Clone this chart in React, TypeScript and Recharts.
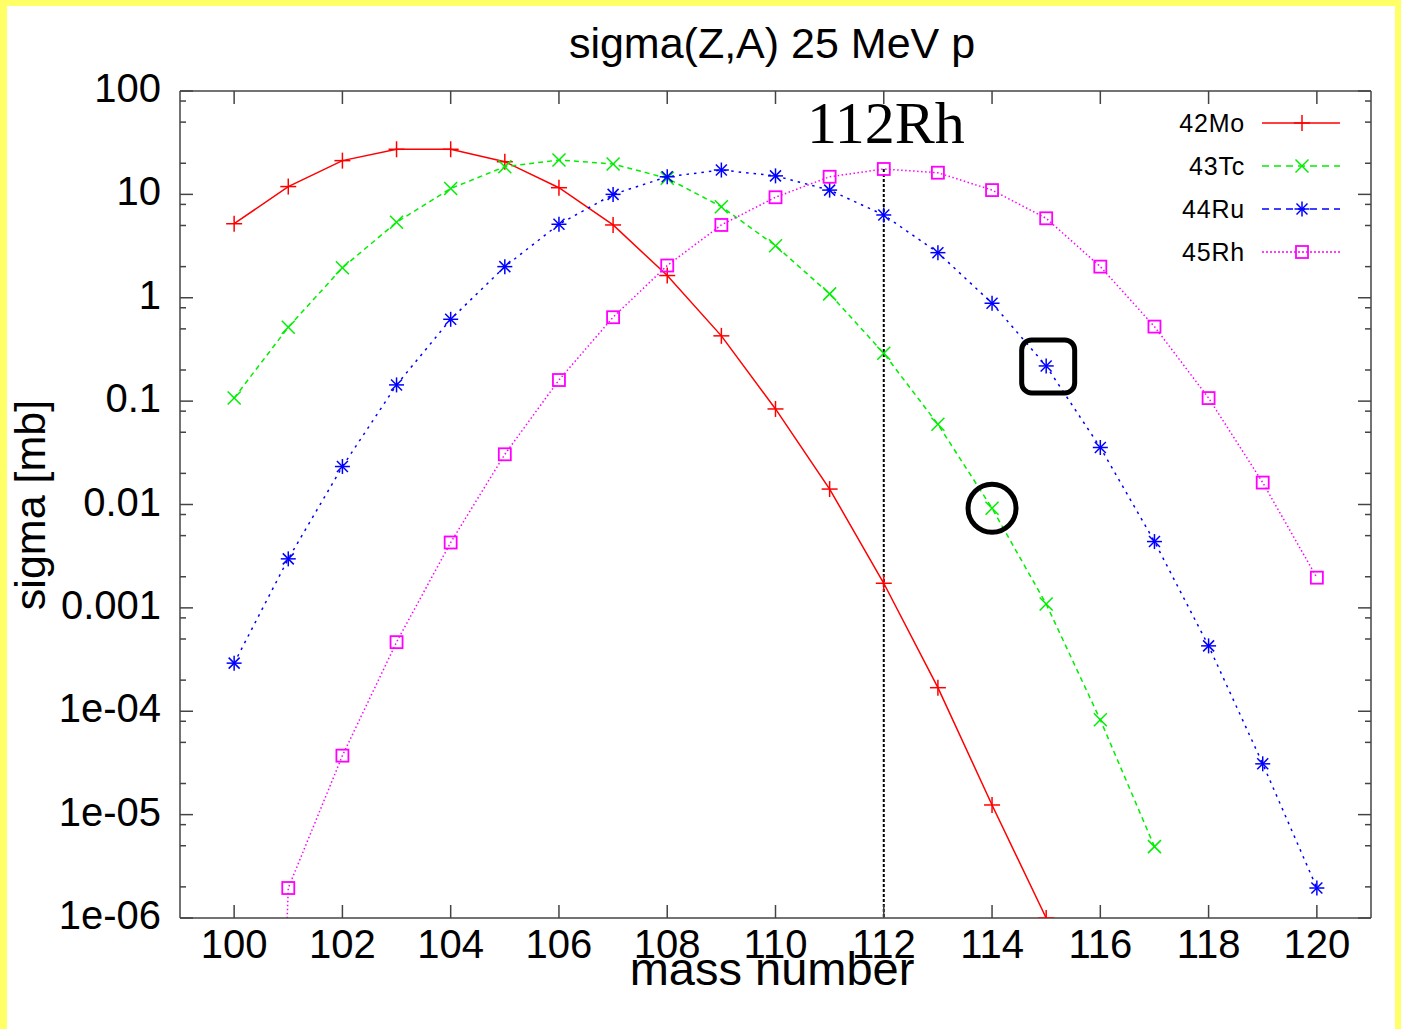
import React from 'react';
import { LineChart, Line, XAxis, YAxis, ReferenceLine, ReferenceDot, Legend, Customized } from 'recharts';

const massNumbers = [100, 101, 102, 103, 104, 105, 106, 107, 108, 109, 110, 111, 112, 113, 114, 115, 116, 117, 118, 119, 120];
const mo42 = [5.2, 11.9, 21.2, 27.3, 27.3, 20.7, 11.6, 5.06, 1.64, 0.428, 0.084, 0.0141, 0.00173, 1.69e-4, 1.24e-5, 1.0e-6, null, null, null, null, null];
const tc43 = [0.107, 0.519, 1.95, 5.37, 11.4, 18.5, 21.5, 19.7, 14.3, 7.6, 3.19, 1.09, 0.29, 0.0597, 0.0092, 0.00109, 8.26e-5, 4.9e-6, null, null, null];
const ru44 = [2.92e-4, 2.98e-3, 0.0233, 0.1435, 0.619, 2.0, 5.14, 10.0, 14.8, 17.2, 15.1, 11.0, 6.32, 2.73, 0.885, 0.219, 0.0356, 0.00438, 4.29e-4, 3.1e-5, 1.95e-6];
const rh45 = [1e-20, 1.95e-6, 3.72e-5, 4.66e-4, 4.29e-3, 0.0306, 0.16, 0.648, 2.05, 5.06, 9.38, 14.8, 17.6, 16.2, 11.0, 5.87, 2.0, 0.526, 0.107, 0.0163, 1.96e-3];

const xTicks = [100, 102, 104, 106, 108, 110, 112, 114, 116, 118, 120];
const yMajorTicks = [1e-6, 1e-5, 1e-4, 1e-3, 1e-2, 1e-1, 1, 10, 100];
const yTickLabels = ['1e-06', '1e-05', '1e-04', '0.001', '0.01', '0.1', '1', '10', '100'];
const yMinorFactors = [2, 5, 8];

const titleText = 'sigma(Z,A) 25 MeV p';
const yLabelText = 'sigma [mb]';
const xLabelText = 'mass number';
const markText = '112Rh';

const series = [
  { key: 'mo', name: '42Mo', values: mo42, color: '#ff0000', dash: undefined, marker: 'plus' },
  { key: 'tc', name: '43Tc', values: tc43, color: '#00ee00', dash: '5 4', marker: 'cross' },
  { key: 'ru', name: '44Ru', values: ru44, color: '#0000ff', dash: '2.5 5', marker: 'star' },
  { key: 'rh', name: '45Rh', values: rh45, color: '#ff00ff', dash: '1.5 2.5', marker: 'square' },
];

const data = massNumbers.map((a, i) => ({
  A: a,
  mo: mo42[i],
  tc: tc43[i],
  ru: ru44[i],
  rh: rh45[i],
}));

const yMinorTicks: number[] = [];
for (let e = -6; e < 2; e++) {
  for (const f of yMinorFactors) yMinorTicks.push(f * Math.pow(10, e));
}
const yTicks = [...yMajorTicks, ...yMinorTicks].sort((a, b) => a - b);

const SANS = '"Liberation Sans", Arial, Helvetica, sans-serif';
const SERIF = '"Liberation Serif", "Times New Roman", serif';
const AXIS = '#444444';

const isMajor = (v: number) => {
  const l = Math.log10(v);
  return Math.abs(l - Math.round(l)) < 1e-6;
};
const majorLabel = (v: number) => {
  const idx = yMajorTicks.findIndex((m) => Math.abs(Math.log10(m) - Math.log10(v)) < 1e-6);
  return idx >= 0 ? yTickLabels[idx] : '';
};

function Marker({ kind, cx, cy, color }: any) {
  const sw = 1.5;
  if (kind === 'plus') {
    return (
      <g stroke={color} strokeWidth={sw}>
        <line x1={cx - 8} y1={cy} x2={cx + 8} y2={cy} />
        <line x1={cx} y1={cy - 8} x2={cx} y2={cy + 8} />
      </g>
    );
  }
  if (kind === 'cross') {
    const d = 6.5;
    return (
      <g stroke={color} strokeWidth={sw}>
        <line x1={cx - d} y1={cy - d} x2={cx + d} y2={cy + d} />
        <line x1={cx - d} y1={cy + d} x2={cx + d} y2={cy - d} />
      </g>
    );
  }
  if (kind === 'star') {
    const d = 5.5;
    return (
      <g stroke={color} strokeWidth={sw}>
        <line x1={cx - 7.5} y1={cy} x2={cx + 7.5} y2={cy} />
        <line x1={cx} y1={cy - 7.5} x2={cx} y2={cy + 7.5} />
        <line x1={cx - d} y1={cy - d} x2={cx + d} y2={cy + d} />
        <line x1={cx - d} y1={cy + d} x2={cx + d} y2={cy - d} />
      </g>
    );
  }
  return <rect x={cx - 6} y={cy - 6} width={12} height={12} fill="none" stroke={color} strokeWidth={1.8} />;
}

const makeDot = (kind: string, color: string) => (props: any) => {
  const { cx, cy, index } = props;
  if (cx == null || cy == null || !isFinite(cy) || cy > 1000 || cy < 0) return <g key={`d-${index}`} />;
  return <Marker key={`d-${index}`} kind={kind} cx={cx} cy={cy} color={color} />;
};

const LeftTick = (props: any) => {
  const { x, y, payload } = props;
  const major = isMajor(payload.value);
  return (
    <g>
      <line x1={x} x2={x + (major ? 13 : 6)} y1={y} y2={y} stroke={AXIS} strokeWidth={1.5} />
      {major && (
        <text x={x - 19} y={y + 11} textAnchor="end" fontSize={40} fontFamily={SANS} fill="#000">
          {majorLabel(payload.value)}
        </text>
      )}
    </g>
  );
};

const RightTick = (props: any) => {
  const { x, y, payload } = props;
  const major = isMajor(payload.value);
  return <line x1={x} x2={x - (major ? 13 : 6)} y1={y} y2={y} stroke={AXIS} strokeWidth={1.5} />;
};

const BottomTick = (props: any) => {
  const { x, y, payload } = props;
  return (
    <g>
      <line x1={x} x2={x} y1={y} y2={y - 13} stroke={AXIS} strokeWidth={1.5} />
      <text x={x} y={y + 40} textAnchor="middle" fontSize={40} fontFamily={SANS} fill="#000">
        {payload.value}
      </text>
    </g>
  );
};

const TopTick = (props: any) => {
  const { x, y } = props;
  return <line x1={x} x2={x} y1={y} y2={y + 13} stroke={AXIS} strokeWidth={1.5} />;
};

const LegendBox = () => (
  <svg width={220} height={170} style={{ display: 'block' }}>
    {series.map((s, i) => {
      const yy = 23 + i * 43;
      return (
        <g key={s.key}>
          <text x={105} y={yy + 9} textAnchor="end" fontSize={25} letterSpacing={0.8} fontFamily={SANS} fill="#000">
            {s.name}
          </text>
          <line x1={122} x2={200} y1={yy} y2={yy} stroke={s.color} strokeWidth={1.5} strokeDasharray={s.dash ? (s.key === 'rh' ? '2 2' : '7 5') : undefined} />
          <Marker kind={s.marker} cx={162} cy={yy} color={s.color} />
        </g>
      );
    })}
  </svg>
);

const Texts = () => (
  <g>
    <text x={772} y={58} textAnchor="middle" fontSize={43} fontFamily={SANS} fill="#000">
      {titleText}
    </text>
    <text transform="translate(45,505) rotate(-90)" textAnchor="middle" fontSize={43} fontFamily={SANS} fill="#000">
      {yLabelText}
    </text>
    <text x={772} y={985} textAnchor="middle" fontSize={47} fontFamily={SANS} fill="#000">
      {xLabelText}
    </text>
    <text x={807} y={143} fontSize={60} fontFamily={SERIF} fill="#000">
      {markText}
    </text>
  </g>
);

const RoundedBox = (props: any) => {
  const { cx, cy } = props;
  if (cx == null || cy == null) return <g />;
  return <rect x={cx - 24.5} y={cy - 26} width={53} height={53} rx={10} ry={10} fill="none" stroke="#000" strokeWidth={5} />;
};

export default function App() {
  const axisLine = { stroke: AXIS, strokeWidth: 1.5 };
  return (
    <div style={{ position: 'fixed', left: 0, top: 0, width: 1401, height: 1029, background: '#ffff66', overflow: 'hidden' }}>
      <div style={{ position: 'absolute', left: 7, top: 6, width: 1388, height: 1023, background: '#ffffff' }} />
      <div style={{ position: 'absolute', left: 0, top: 0 }}>
        <LineChart width={1401} height={1029} data={data} margin={{ top: 0, right: 0, bottom: 0, left: 0 }}>
          <XAxis
            xAxisId="b"
            type="number"
            dataKey="A"
            domain={[99, 121]}
            ticks={xTicks}
            interval={0}
            orientation="bottom"
            height={111}
            tickSize={0}
            tickMargin={0}
            tickLine={false}
            axisLine={axisLine}
            tick={BottomTick}
            allowDataOverflow
          />
          <XAxis
            xAxisId="t"
            type="number"
            dataKey="A"
            domain={[99, 121]}
            ticks={xTicks}
            interval={0}
            orientation="top"
            height={91}
            tickSize={0}
            tickMargin={0}
            tickLine={false}
            axisLine={axisLine}
            tick={TopTick}
            allowDataOverflow
          />
          <YAxis
            yAxisId="l"
            type="number"
            scale="log"
            domain={[1e-6, 100]}
            ticks={yTicks}
            interval={0}
            orientation="left"
            width={180}
            tickSize={0}
            tickMargin={0}
            tickLine={false}
            axisLine={axisLine}
            tick={LeftTick}
            allowDataOverflow
          />
          <YAxis
            yAxisId="r"
            type="number"
            scale="log"
            domain={[1e-6, 100]}
            ticks={yTicks}
            interval={0}
            orientation="right"
            width={30}
            tickSize={0}
            tickMargin={0}
            tickLine={false}
            axisLine={axisLine}
            tick={RightTick}
            allowDataOverflow
          />
          <ReferenceLine
            xAxisId="b"
            yAxisId="l"
            segment={[{ x: 112, y: rh45[12] }, { x: 112, y: 1e-6 }]}
            stroke="#000"
            strokeWidth={2}
            strokeDasharray="3 2"
          />
          {series.map((s) => (
            <Line
              key={s.key}
              xAxisId="b"
              yAxisId="l"
              type="linear"
              dataKey={s.key}
              name={s.name}
              stroke={s.color}
              strokeWidth={1.5}
              strokeDasharray={s.dash}
              dot={makeDot(s.marker, s.color)}
              activeDot={false}
              isAnimationActive={false}
              connectNulls={false}
            />
          ))}
          <ReferenceDot xAxisId="b" yAxisId="l" x={114} y={tc43[14]} r={24} fill="none" stroke="#000" strokeWidth={5} />
          <ReferenceDot xAxisId="b" yAxisId="l" x={115} y={ru44[15]} shape={RoundedBox} />
          <Legend
            layout="vertical"
            align="center"
            verticalAlign="middle"
            content={LegendBox}
            wrapperStyle={{ left: 1140, top: 100, width: 220, height: 170 }}
          />
          <Customized component={Texts} />
        </LineChart>
      </div>
    </div>
  );
}
